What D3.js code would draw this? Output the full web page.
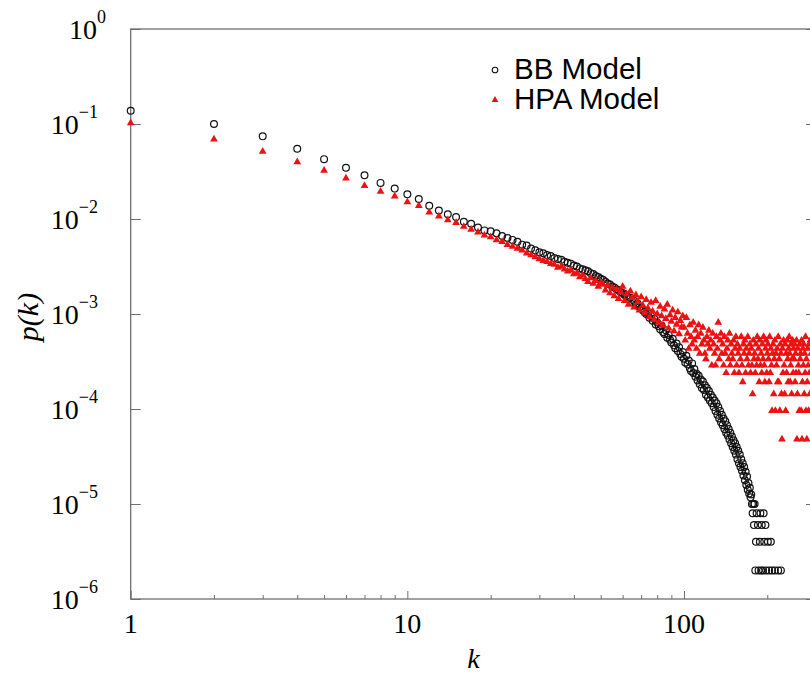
<!DOCTYPE html>
<html>
<head>
<meta charset="utf-8">
<script src="https://cdn.jsdelivr.net/npm/d3@7"></script>
<style>
  body { margin: 0; background: #fff; }
  .serif { font-family: "Liberation Serif", "Times New Roman", Times, serif; }
  .sans { font-family: "Liberation Sans", Arial, Helvetica, sans-serif; }
</style>
</head>
<body>
<div id="chart"></div>
<script>
// log10 p(k) for k = 1..50, BB model
const bbHead = [
  -0.86, -1.00, -1.13, -1.26, -1.37, -1.46, -1.54, -1.62, -1.68, -1.74,
  -1.79, -1.86, -1.91, -1.95, -1.98, -2.03, -2.05, -2.09, -2.12, -2.13,
  -2.15, -2.18, -2.20, -2.22, -2.24, -2.27, -2.28, -2.31, -2.33, -2.35,
  -2.36, -2.38, -2.39, -2.41, -2.42, -2.43, -2.45, -2.46, -2.47, -2.49,
  -2.50, -2.52, -2.53, -2.54, -2.55, -2.57, -2.58, -2.60, -2.61, -2.63
];
// log10 p(k) for k = 51..175, BB model
const bbMid = [
  -2.64, -2.66, -2.68, -2.69, -2.71, -2.72, -2.74, -2.75, -2.77, -2.78,
  -2.80, -2.81, -2.84, -2.83, -2.87, -2.86, -2.90, -2.89, -2.93, -2.94,
  -2.96, -2.98, -3.00, -2.99, -3.04, -3.02, -3.07, -3.05, -3.11, -3.09,
  -3.13, -3.16, -3.12, -3.19, -3.21, -3.17, -3.25, -3.22, -3.27, -3.30,
  -3.26, -3.33, -3.36, -3.31, -3.39, -3.35, -3.42, -3.45, -3.40, -3.47,
  -3.51, -3.44, -3.53, -3.49, -3.57, -3.60, -3.52, -3.62, -3.58, -3.66,
  -3.63, -3.70, -3.65, -3.74, -3.69, -3.78, -3.71, -3.80, -3.75, -3.85,
  -3.78, -3.88, -3.81, -3.91, -3.85, -3.94, -3.88, -3.98, -3.91, -4.02,
  -3.94, -4.06, -3.98, -4.10, -4.02, -4.14, -4.06, -4.17, -4.10, -4.21,
  -4.13, -4.25, -4.17, -4.28, -4.21, -4.32, -4.25, -4.36, -4.29, -4.40,
  -4.33, -4.44, -4.36, -4.48, -4.40, -4.53, -4.44, -4.57, -4.48, -4.61,
  -4.53, -4.65, -4.57, -4.70, -4.61, -4.75, -4.66, -4.80, -4.71, -4.85,
  -4.78, -4.89, -4.83, -4.93, -4.90
];
// tail of BB model: k and number of hits (p = hits * bbUnit)
const bbUnit = 2e-6;
const bbTailK    = [176, 177, 178, 179, 180, 181, 182, 183, 185, 186, 188, 189, 190, 191, 193, 194, 195, 197, 198, 201, 203, 206, 208, 213, 219, 224];
const bbTailHits = [5,   4,   5,   3,   5,   1,   2,   4,   3,   1,   2,   4,   1,   3,   1,   4,   2,   3,   1,   2,   1,   2,   1,   1,   1,   1];

// log10 p(k) for k = 1..50, HPA model
const hpaHead = [
  -0.99, -1.16, -1.29, -1.40, -1.49, -1.57, -1.65, -1.71, -1.76, -1.82,
  -1.86, -1.93, -1.97, -2.01, -2.04, -2.08, -2.11, -2.14, -2.17, -2.19,
  -2.22, -2.24, -2.27, -2.29, -2.31, -2.33, -2.36, -2.38, -2.40, -2.42,
  -2.44, -2.45, -2.47, -2.48, -2.51, -2.50, -2.53, -2.55, -2.54, -2.58,
  -2.57, -2.61, -2.59, -2.63, -2.66, -2.62, -2.68, -2.65, -2.71, -2.67
];
// log10 p(k) for k = 51..99, HPA model
const hpaMid = [
  -2.69, -2.75, -2.70, -2.78, -2.72, -2.81, -2.74, -2.84, -2.77, -2.71,
  -2.86, -2.79, -2.90, -2.76, -2.83, -2.93, -2.80, -2.87, -2.96, -2.82,
  -2.91, -2.99, -2.85, -2.94, -3.03, -2.88, -2.97, -3.06, -2.86, -3.00,
  -3.09, -2.92, -3.02, -3.12, -2.95, -3.05, -2.90, -3.15, -3.01, -3.08,
  -2.96, -3.18, -3.04, -3.11, -2.98, -3.21, -3.07, -3.14, -3.02
];
// tail of HPA model: hits for k = 100..289 (p = hits * hpaUnit)
const hpaUnit = 4.8e-5;
const hpaTailHits = [
  15, 11, 19, 13,  9, 16, 12, 10, 17, 11,
  14,  9, 12, 16,  8, 13, 10, 15, 11,  8,
   7, 12, 10, 14,  9, 11,  6, 13, 10,  8,
   6, 12,  9, 17,  7, 11, 13,  8, 10,  6,
  12,  8,  5,  9, 11,  7, 13,  6, 10,  8,
   7, 11,  5,  9, 12,  6, 10,  8,  5,  9,
   7, 12,  6,  4, 10,  8, 11,  5,  9,  7,
  12,  6,  8, 10,  5,  9,  6,  3, 11,  7,
   8,  5, 10,  6, 12,  7,  9,  4, 11,  6,
   8,  5, 10,  7, 12,  6,  4,  9, 11,  5,
   8, 10,  7,  4, 12,  5,  9,  6,  2,  8,
  10,  3,  7, 11,  2,  8,  6,  9,  4, 12,
   4,  7,  2, 10,  8,  3,  1,  9,  5, 11,
   6,  3, 10,  2,  8,  5, 11,  7,  4,  9,
  12,  8,  4,  6, 10,  3,  7, 11,  5,  9,
   7, 10,  4,  8,  5, 11,  1,  3,  9,  6,
   5,  2, 10,  7,  8,  2, 11,  1,  4,  9,
   6, 10,  3,  8,  5, 12,  2,  7,  1,  4,
   9,  6,  2, 10,  5,  3, 11,  2,  8,  5
];

const xMajor = [1, 10, 100];
const xMinor = [2, 3, 4, 5, 6, 7, 8, 9, 20, 30, 40, 50, 60, 70, 80, 90, 200, 300];
const yExponents = [0, -1, -2, -3, -4, -5, -6];
const seriesNames = ["BB Model", "HPA Model"];

// assemble points
const bbData = [];
bbHead.forEach((v, i) => bbData.push({ k: i + 1, p: Math.pow(10, v) }));
bbMid.forEach((v, i) => bbData.push({ k: i + 51, p: Math.pow(10, v) }));
bbTailK.forEach((k, i) => bbData.push({ k: k, p: bbTailHits[i] * bbUnit }));

const hpaData = [];
hpaHead.forEach((v, i) => hpaData.push({ k: i + 1, p: Math.pow(10, v) }));
hpaMid.forEach((v, i) => hpaData.push({ k: i + 51, p: Math.pow(10, v) }));
hpaTailHits.forEach((n, i) => hpaData.push({ k: i + 100, p: n * hpaUnit }));

const W = 810, H = 675;
const plotLeft = 130.7, plotRight = 816, plotTop = 29, plotBottom = 599;

const svg = d3.select("#chart").append("svg")
  .attr("width", W)
  .attr("height", H);

const x = d3.scaleLog().domain([1, 300]).range([plotLeft, plotRight]);
const y = d3.scaleLog().domain([1e-6, 1]).range([plotBottom, plotTop]);

const axisColor = "#6f6f6f";

// frame
svg.append("rect")
  .attr("x", plotLeft).attr("y", plotTop)
  .attr("width", plotRight - plotLeft).attr("height", plotBottom - plotTop)
  .attr("fill", "none")
  .attr("stroke", axisColor)
  .attr("stroke-width", 1.3);

// x ticks (inward)
svg.append("g")
  .attr("transform", `translate(0,${plotBottom})`)
  .call(d3.axisBottom(x).tickValues(xMinor).tickSize(-4).tickFormat(""))
  .call(g => g.select(".domain").remove())
  .call(g => g.selectAll("line").attr("stroke", axisColor));
svg.append("g")
  .attr("transform", `translate(0,${plotBottom})`)
  .call(d3.axisBottom(x).tickValues(xMajor).tickSize(-8).tickFormat(""))
  .call(g => g.select(".domain").remove())
  .call(g => g.selectAll("line").attr("stroke", axisColor));

// y ticks (inward, both sides)
const yTicks = yExponents.map(e => Math.pow(10, e));
svg.append("g")
  .attr("transform", `translate(${plotLeft},0)`)
  .call(d3.axisLeft(y).tickValues(yTicks).tickSize(-10).tickFormat(""))
  .call(g => g.select(".domain").remove())
  .call(g => g.selectAll("line").attr("stroke", axisColor));
svg.append("g")
  .attr("transform", `translate(${plotRight},0)`)
  .call(d3.axisRight(y).tickValues(yTicks).tickSize(-10).tickFormat(""))
  .call(g => g.select(".domain").remove())
  .call(g => g.selectAll("line").attr("stroke", axisColor));

// x tick labels
svg.append("g").selectAll("text")
  .data(xMajor)
  .enter().append("text")
  .attr("class", "serif")
  .attr("x", d => x(d))
  .attr("y", 633)
  .attr("text-anchor", "middle")
  .attr("font-size", 28)
  .text(d => d);

// y tick labels 10^e
const yLab = svg.append("g").selectAll("text")
  .data(yExponents)
  .enter().append("text")
  .attr("class", "serif")
  .attr("x", d => d === 0 ? 106 : 98)
  .attr("y", d => y(Math.pow(10, d)) + 10)
  .attr("text-anchor", "end")
  .attr("font-size", 28);
yLab.append("tspan").text("10");
yLab.append("tspan")
  .attr("dy", -16)
  .attr("font-size", 18)
  .text(d => d === 0 ? "0" : "\u2212" + (-d));

// axis titles
svg.append("text")
  .attr("class", "serif")
  .attr("transform", "translate(38,317) rotate(-90)")
  .attr("text-anchor", "middle")
  .attr("font-style", "italic")
  .attr("font-size", 30)
  .text("p(k)");

svg.append("text")
  .attr("class", "serif")
  .attr("x", (plotLeft + plotRight) / 2)
  .attr("y", 668)
  .attr("text-anchor", "middle")
  .attr("font-style", "italic")
  .attr("font-size", 28)
  .text("k");

// markers
const red = "#ee1111";
const tri = d3.symbol().type(d3.symbolTriangle).size(26);

svg.append("g").selectAll("circle")
  .data(bbData)
  .enter().append("circle")
  .attr("cx", d => x(d.k))
  .attr("cy", d => y(d.p))
  .attr("r", 3.4)
  .attr("fill", "none")
  .attr("stroke", "#111")
  .attr("stroke-width", 1.2);

svg.append("g").selectAll("path")
  .data(hpaData)
  .enter().append("path")
  .attr("d", tri)
  .attr("transform", d => `translate(${x(d.k)},${y(d.p)})`)
  .attr("fill", red);

// legend
const legend = svg.append("g");
legend.append("circle")
  .attr("cx", 495).attr("cy", 70).attr("r", 2.8)
  .attr("fill", "none").attr("stroke", "#111").attr("stroke-width", 1.1);
legend.append("path")
  .attr("d", d3.symbol().type(d3.symbolTriangle).size(20))
  .attr("transform", "translate(495,100)")
  .attr("fill", red);
legend.selectAll("text")
  .data(seriesNames)
  .enter().append("text")
  .attr("class", "sans")
  .attr("x", 514)
  .attr("y", (d, i) => 79 + i * 30)
  .attr("font-size", 29.5)
  .text(d => d);
</script>
</body>
</html>
